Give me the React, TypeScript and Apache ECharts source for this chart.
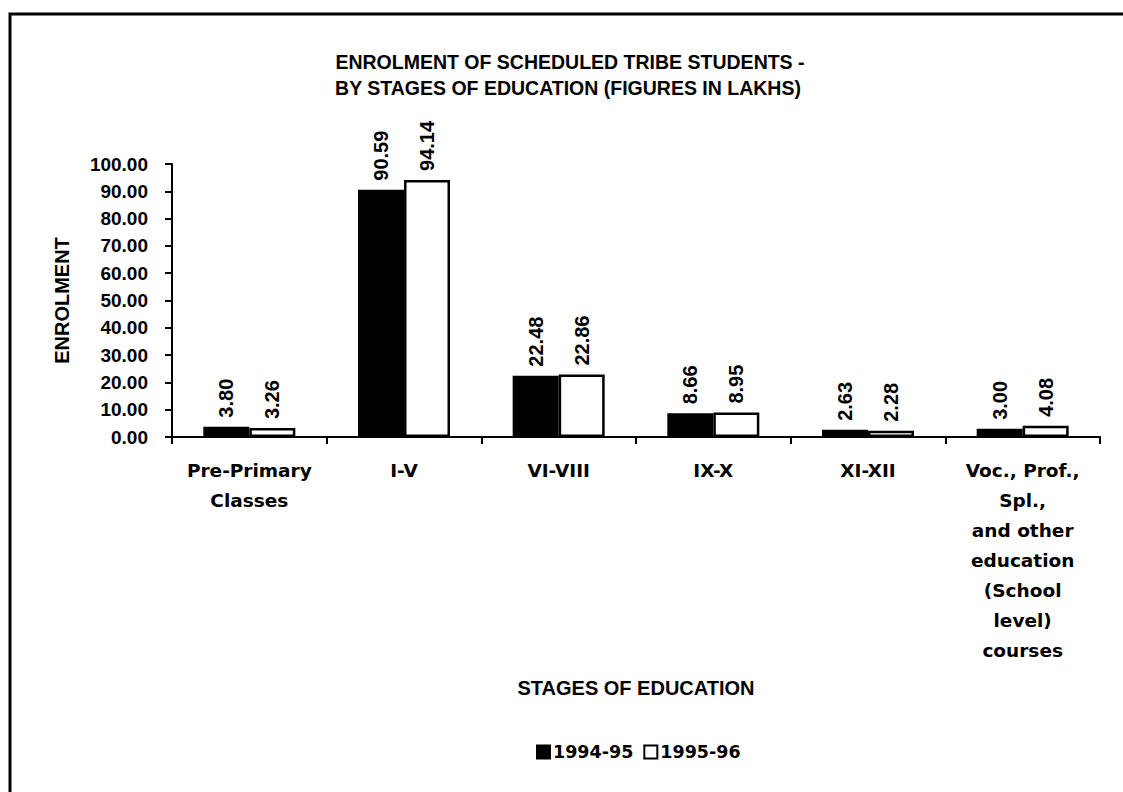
import React, { useEffect, useRef } from "react";
import * as echarts from "echarts";

const categories = [
  "Pre-Primary\nClasses",
  "I-V",
  "VI-VIII",
  "IX-X",
  "XI-XII",
  "Voc., Prof.,\nSpl.,\nand other\neducation\n(School\nlevel)\ncourses",
];
const series1994 = [3.8, 90.59, 22.48, 8.66, 2.63, 3.0];
const series1995 = [3.26, 94.14, 22.86, 8.95, 2.28, 4.08];
const seriesNames = ["1994-95", "1995-96"];
const titleLines = [
  "ENROLMENT OF SCHEDULED TRIBE STUDENTS -",
  "BY STAGES OF EDUCATION (FIGURES IN LAKHS)",
];
const yAxisName = "ENROLMENT";
const xAxisName = "STAGES OF EDUCATION";

const SANS = "'Liberation Sans', Arial, sans-serif";
const WIDE = "'DejaVu Sans', 'Liberation Sans', sans-serif";

export default function App() {
  const ref = useRef<HTMLDivElement>(null);
  useEffect(() => {
    if (!ref.current) return;
    const chart = echarts.init(ref.current, null, { renderer: "svg" });
    const labelCfg = {
      show: true,
      position: "top",
      rotate: 90,
      align: "left",
      verticalAlign: "middle",
      distance: 9,
      color: "#000",
      fontFamily: SANS,
      fontWeight: "bold",
      fontSize: 20,
      formatter: (p: any) => Number(p.value).toFixed(2),
    };
    chart.setOption({
      animation: false,
      backgroundColor: "#fff",
      graphic: [
        {
          type: "rect",
          shape: { x: 10, y: 14, width: 1300, height: 1000 },
          style: { fill: "none", stroke: "#000", lineWidth: 3 },
          silent: true,
        },
        {
          type: "text",
          x: 570,
          y: 62,
          style: {
            text: titleLines[0],
            align: "center",
            verticalAlign: "middle",
            fill: "#000",
            font: `bold 19.5px ${SANS}`,
          },
        },
        {
          type: "text",
          x: 568,
          y: 88,
          style: {
            text: titleLines[1],
            align: "center",
            verticalAlign: "middle",
            fill: "#000",
            font: `bold 19.5px ${SANS}`,
          },
        },
      ],
      legend: {
        data: seriesNames,
        left: 531,
        top: 738,
        icon: "rect",
        itemWidth: 13,
        itemHeight: 13,
        itemGap: 10,
        textStyle: {
          color: "#000",
          fontFamily: WIDE,
          fontWeight: "bold",
          fontSize: 17.5,
          padding: [0, 0, 0, -2],
        },
      },
      grid: { left: 172, right: 23, top: 164, bottom: 355, containLabel: false },
      xAxis: {
        type: "category",
        data: categories,
        name: xAxisName,
        nameLocation: "middle",
        nameGap: 251,
        nameTextStyle: {
          color: "#000",
          fontFamily: SANS,
          fontWeight: "bold",
          fontSize: 20,
          verticalAlign: "middle",
        },
        axisLine: { lineStyle: { color: "#000", width: 2 } },
        axisTick: { show: true, length: 7, lineStyle: { color: "#000", width: 2 } },
        axisLabel: {
          interval: 0,
          margin: 18,
          color: "#000",
          fontFamily: WIDE,
          fontWeight: "bold",
          fontSize: 18.5,
          lineHeight: 30,
        },
      },
      yAxis: {
        type: "value",
        min: 0,
        max: 100,
        interval: 10,
        name: yAxisName,
        nameLocation: "middle",
        nameRotate: 90,
        nameGap: 110,
        nameTextStyle: {
          color: "#000",
          fontFamily: SANS,
          fontWeight: "bold",
          fontSize: 20,
          verticalAlign: "middle",
        },
        splitLine: { show: false },
        axisLine: { show: true, lineStyle: { color: "#000", width: 2 } },
        axisTick: { show: true, length: 7, lineStyle: { color: "#000", width: 2 } },
        axisLabel: {
          margin: 24,
          color: "#000",
          fontFamily: SANS,
          fontWeight: "bold",
          fontSize: 19,
          formatter: (v: number) => v.toFixed(2),
        },
      },
      series: [
        {
          name: seriesNames[0],
          type: "bar",
          data: series1994,
          barWidth: 46,
          barGap: "0%",
          itemStyle: { color: "#000", borderColor: "#000", borderWidth: 2 },
          label: labelCfg,
        },
        {
          name: seriesNames[1],
          type: "bar",
          data: series1995,
          barWidth: 46,
          barGap: "0%",
          itemStyle: { color: "#fff", borderColor: "#000", borderWidth: 2.5 },
          label: labelCfg,
        },
      ],
    });
    return () => chart.dispose();
  }, []);
  return (
    <div
      ref={ref}
      style={{ position: "fixed", left: 0, top: 0, width: 1123, height: 792, background: "#fff" }}
    />
  );
}
